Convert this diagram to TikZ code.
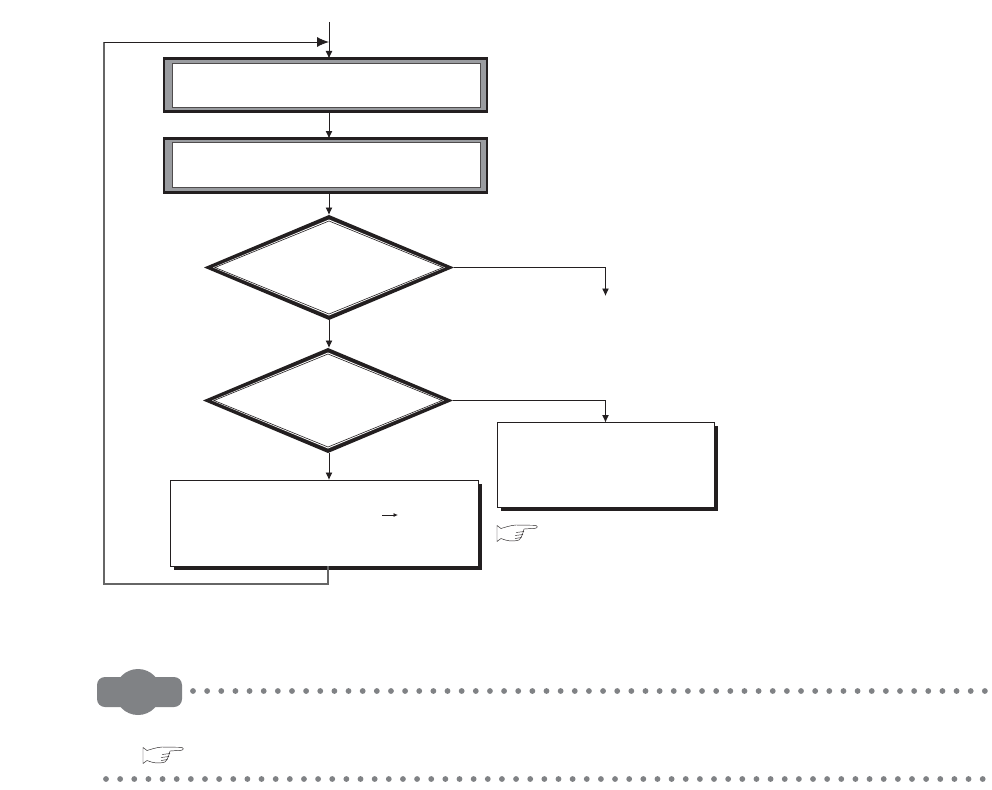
\documentclass[tikz,border=0pt]{standalone}
\usetikzlibrary{shapes.geometric,shadows,arrows.meta}
\definecolor{ink}{HTML}{231F20}
\definecolor{band}{HTML}{9A9CA0}
\definecolor{dotgray}{HTML}{808285}
\definecolor{loopgray}{HTML}{666666}
\tikzset{
  x=1pt,y=-1pt,
  every node/.style={inner sep=0pt,outer sep=0pt},
  conn/.style={draw=ink,line width=0.9pt,-{Latex[length=7.5pt,width=7pt]}},
  loopline/.style={draw=loopgray,line width=1.1pt},
  framebox/.style={rectangle,draw=ink,line width=2.2pt,fill=band},
  frameinner/.style={rectangle,draw=ink!80,line width=0.8pt,fill=white},
  dmouter/.style={diamond,fill=ink,minimum width=250pt,minimum height=105pt},
  dmgap/.style={diamond,fill=white,minimum width=232pt,minimum height=96pt},
  dminner/.style={diamond,draw=ink,line width=0.6pt,fill=white,minimum width=228pt,minimum height=93pt},
  shadowbox/.style={rectangle,draw=ink,line width=0.8pt,fill=white,
    drop shadow={shadow xshift=3.5pt,shadow yshift=-3.5pt,fill=ink,opacity=1}},
  noteshape/.style={fill=dotgray},
  pics/handicon/.style={code={
    \draw[ink,line width=0.45pt,fill=white]
      (0,0.5) -- (4,3.5) .. controls (9,2) and (13,0.5) .. (19,0)
      -- (38,0.3) .. controls (41,0.8) and (41,3) .. (38,3.3)
      -- (27,4) .. controls (26,8) and (25,12) .. (22,15)
      .. controls (16,17) and (10,16) .. (4,13.5) -- (0,16.5) -- cycle;
    \draw[ink,line width=0.45pt] (27,6.5) -- (19,7.5) (26,9.5) -- (18,10.5) (24.5,12.5) -- (18,13.5);
  }},
}
\begin{document}
\begin{tikzpicture}
\useasboundingbox[fill=white] (0,0) rectangle (992,789);
% framed boxes
\node[framebox,minimum width=323pt,minimum height=53pt] (box1) at (325.5,85) {};
\node[frameinner,minimum width=308pt,minimum height=44pt] (box1in) at (326.5,85) {};
\node[framebox,minimum width=323pt,minimum height=54pt] (box2) at (325.5,165.5) {};
\node[frameinner,minimum width=308pt,minimum height=45pt] (box2in) at (326.5,164.5) {};
% decision diamonds
\node[dmouter] (d1) at (329,267.5) {};
\node[dmgap] at (329,267.5) {};
\node[dminner] (d1in) at (329,267.5) {};
\node[dmouter] (d2) at (328,400.5) {};
\node[dmgap] at (328,400.5) {};
\node[dminner] (d2in) at (328,400.5) {};
% process boxes
\node[shadowbox,minimum width=308pt,minimum height=86pt] (box3) at (324,523) {};
\node[shadowbox,minimum width=217pt,minimum height=85pt] (box4) at (605.5,465) {};
% free ends
\coordinate (top) at (329,22);
\coordinate (merge) at (329,42);
\coordinate (ltop) at (104,42);
\coordinate (lbot) at (104,584);
\coordinate (exit) at (605.5,296);
\coordinate (small1) at (382,515);
\coordinate (small2) at (398,515);
% connectors
\draw[conn] (top) -- (top |- box1.north);
\draw[conn] (top |- box1.south) -- (top |- box2.north);
\draw[conn] (top |- box2.south) -- (d1.north);
\draw[conn] (d1.south) -- (d1.south |- d2.north);
\draw[conn] (top |- d2.south) -- (top |- box3.north);
\draw[conn] (d1.east) -| (exit);
\draw[conn] (d2.east) -| (box4.north);
\draw[loopline] (d2.south |- box3.south) -- (d2.south |- lbot) -- (lbot) -- (ltop);
\draw[draw=ink,line width=0.9pt,-{Latex[length=12pt,width=10pt]}] (ltop) -- (merge);
\draw[draw=ink,line width=0.8pt,-{Latex[length=4.5pt,width=4pt]}] (small1) -- (small2);
% pointers
\pic at (497,525) {handicon};
\pic at (143,747) {handicon};
% note bar
\node[noteshape,rectangle,rounded corners=8pt,minimum width=85pt,minimum height=30pt] (noteb) at (139.5,692) {};
\node[noteshape,circle,minimum size=46pt] (notec) at (138,692) {};
\foreach \i in {0,...,56} \fill[dotgray] (193+14.14*\i,691) circle[radius=2.9];
\foreach \i in {0,...,62} \fill[dotgray] (106+14.14*\i,779) circle[radius=2.9];
\end{tikzpicture}
\end{document}
